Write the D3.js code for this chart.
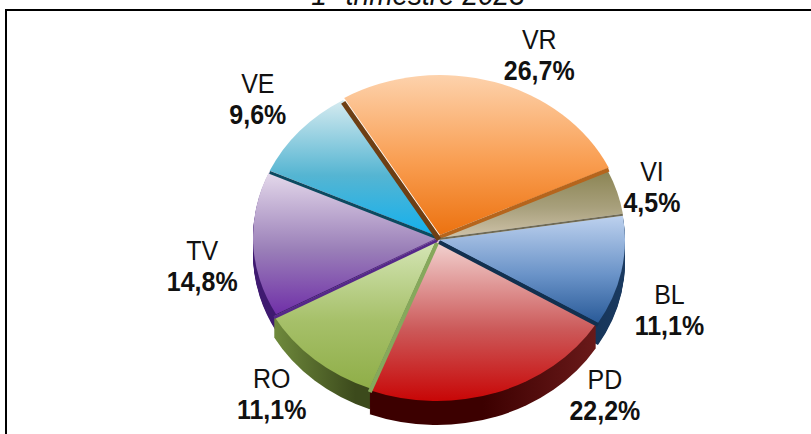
<!DOCTYPE html>
<html>
<head>
<meta charset="utf-8">
<script src="https://cdn.jsdelivr.net/npm/d3@7"></script>
<style>
  html, body { margin: 0; padding: 0; background: #fff; overflow: hidden; }
  text { font-family: "Liberation Sans", Arial, sans-serif; fill: #111; }
</style>
</head>
<body>
<script>
var categories = ['VR', 'VI', 'BL', 'PD', 'RO', 'TV', 'VE'];
var values = [26.7, 4.5, 11.1, 22.2, 11.1, 14.8, 9.6];
var valueLabels = ['26,7%', '4,5%', '11,1%', '22,2%', '11,1%', '14,8%', '9,6%'];

var topColors = ['#fdd2ac', '#8b8453', '#bdd1ee', '#f3d4d2', '#d6e7b8', '#e6dbec', '#d6ebf0'];
var midColors = ['#f99d50', '#a8a07c', '#6a93c8', '#cc5a5a', '#a6c069', '#9a7fb8', '#55b5d2'];
var bottomColors = ['#ec7210', '#cfc3aa', '#295a98', '#c80606', '#8fae48', '#7030a8', '#12b0ee'];
var rimDark = ['#6e3f14', '#6f6a55', '#0f2a4c', '#3c0000', '#3c4a1c', '#3f1a70', '#0c4a60'];
var rimLight = ['#6e3f14', '#6f6a55', '#1a3a60', '#6a1a1a', '#6f8a3c', '#6a3a96', '#0c4a60'];
// thin walls between slices, drawn on the end edge of each slice
var edgeColors = ['#b5651d', '#6f6a55', '#12304f', '#86a85c', '#55288a', '#0c4a60', '#6e3f14'];
var edgeWidths = [4, 2, 4, 4, 3, 3, 5];

var width = 811, height = 434;
var cx = 438, cy = 238;
var radius = 186, squash = 0.86;

// per slice layout: explosion, rim depth, label nudge
var shift = [[2, -3], [1, 0], [1, 2], [-1, 3], [-1, 1], [1, -1], [1, -1]];
var rimDepth = [0, 0, 22, 24, 21, 17, 0];
var labelShift = [[32, 1], [-12, 0], [0, 27], [91, -37], [-11, 1], [0, 14], [-4, -13]];
var drawOrder = [6, 1, 0, 5, 2, 4, 3];

var pie = d3.pie()
  .sort(null)
  .startAngle(-31 * Math.PI / 180)
  .endAngle(329 * Math.PI / 180)
  .value(function(d) { return d; });

var arc = d3.arc().innerRadius(0).outerRadius(radius);
var labelArc = d3.arc().innerRadius(236).outerRadius(236);

var slices = pie(values);

var svg = d3.select('body').append('svg')
  .attr('width', width)
  .attr('height', height)
  .style('display', 'block');

var defs = svg.append('defs');

slices.forEach(function(d, i) {
  var top = defs.append('linearGradient')
    .attr('id', 'top' + i)
    .attr('x1', 0).attr('y1', 0).attr('x2', 0).attr('y2', 1);
  top.append('stop').attr('offset', 0).attr('stop-color', topColors[i]);
  top.append('stop').attr('offset', 0.55).attr('stop-color', midColors[i]);
  top.append('stop').attr('offset', 1).attr('stop-color', bottomColors[i]);

  var rim = defs.append('linearGradient')
    .attr('id', 'rim' + i)
    .attr('x1', 0).attr('y1', 0).attr('x2', 1).attr('y2', 0);
  rim.append('stop').attr('offset', 0).attr('stop-color', i === 4 ? rimLight[i] : rimDark[i]);
  rim.append('stop').attr('offset', 0.5).attr('stop-color', rimDark[i]);
  rim.append('stop').attr('offset', 1).attr('stop-color', i === 4 ? rimDark[i] : rimLight[i]);
});

// frame, open on the right
svg.append('path')
  .attr('d', 'M6,' + height + 'V10H' + width)
  .attr('fill', 'none')
  .attr('stroke', '#000')
  .attr('stroke-width', 2);

function tallText(x, y, size, str) {
  return svg.append('text')
    .attr('transform', 'translate(' + x + ',' + y + ') scale(1,1.12)')
    .attr('text-anchor', 'middle')
    .style('font-size', size + 'px')
    .text(str);
}

// title, cut by the top of the picture
tallText(418, 5, 28, '1° trimestre 2023')
  .style('font-style', 'italic');

function sliceGroup(i, dy) {
  return 'translate(' + (cx + shift[i][0]) + ',' + (cy + shift[i][1] + dy) + ') scale(1,' + squash + ')';
}

drawOrder.forEach(function(i) {
  var d = slices[i];

  // side of the slice: same arc stacked downwards
  d3.range(rimDepth[i], 0, -1).forEach(function(y) {
    svg.append('path')
      .attr('transform', sliceGroup(i, y))
      .attr('d', arc(d))
      .attr('fill', 'url(#rim' + i + ')');
  });

  svg.append('path')
    .attr('transform', sliceGroup(i, 0))
    .attr('d', arc(d))
    .attr('fill', 'url(#top' + i + ')');
});

// walls along the slice edges
var edgeLine = d3.line();
slices.forEach(function(d, i) {
  var a = d.endAngle;
  var x0 = cx + shift[i][0], y0 = cy + shift[i][1] + edgeWidths[i] / 2;
  svg.append('path')
    .attr('d', edgeLine([
      [x0, y0],
      [x0 + Math.sin(a) * radius, y0 - Math.cos(a) * radius * squash]
    ]))
    .attr('fill', 'none')
    .attr('stroke', edgeColors[i])
    .attr('stroke-width', edgeWidths[i]);
});

// labels
slices.forEach(function(d, i) {
  var c = labelArc.centroid(d);
  var x = cx + c[0] + labelShift[i][0];
  var y = cy + c[1] * 0.84 + labelShift[i][1];
  tallText(x, y, 25, categories[i]);
  tallText(x, y + 31, 25, valueLabels[i])
    .style('font-weight', 'bold');
});
</script>
</body>
</html>
